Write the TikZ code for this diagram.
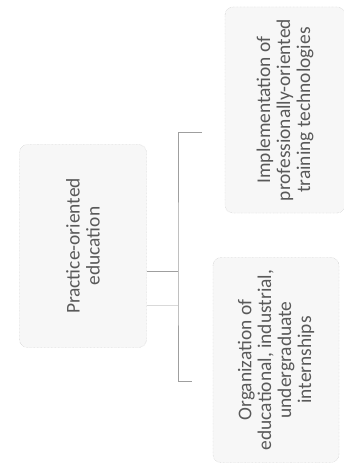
\documentclass[tikz,border=0pt]{standalone}
\usepackage{fontspec}
\setmainfont{Carlito}
\begin{document}
\begin{tikzpicture}[x=1bp,y=-1bp,
    box/.style={draw=gray!50,densely dotted,fill=gray!6,rounded corners=8bp,
      rotate=90,align=center,text=black!65,inner sep=0pt,
      font=\fontsize{19.5}{20}\selectfont},
    link/.style={draw=gray!75,line width=0.9bp}]
  \useasboundingbox (0,0) rectangle (343,465);
  \fill[white] (0,0) rectangle (343,465);

  % rotated boxes: width is the vertical side
  \node[box,minimum width=203bp,minimum height=127bp] (edu) at (83,246)
    {Practice-oriented\\education};
  \node[box,minimum width=206bp,minimum height=120bp] (impl) at (285,110)
    {Implementation of\\professionally-oriented\\training technologies};
  \node[box,minimum width=205bp,minimum height=126bp] (org) at (276,360)
    {Organization of\\educational, industrial,\\undergraduate\\internships};

  % bracket
  \coordinate (jn) at (178,271);
  \coordinate (brT) at (202,132);
  \coordinate (brB) at (192,381);
  \draw[link] (edu.south |- jn) -- (jn);
  \draw[link] (brT) -| (jn) |- (brB);
  \draw[gray!30,line width=0.6bp] (edu.south |- 0,305) -- (jn |- 0,305);
\end{tikzpicture}
\end{document}
